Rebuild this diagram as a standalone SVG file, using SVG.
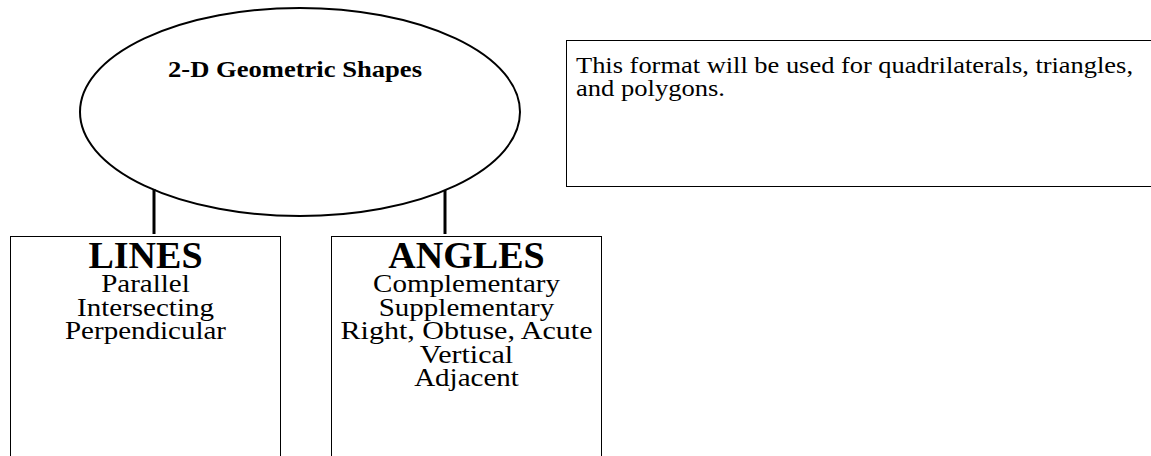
<svg xmlns="http://www.w3.org/2000/svg" width="1151" height="456" viewBox="0 0 1151 456">
<style>
.ln{fill:none;stroke:#000;}
.t{font-family:"Liberation Serif","Times New Roman",serif;fill:#000;}
.b{font-weight:bold;}
.c{text-anchor:middle;}
.it{font-size:26px;}
</style>
<rect width="1151" height="456" fill="#fff"/>
<g id="connectors">
<line class="ln" x1="154" y1="189" x2="154" y2="234" stroke-width="3"/>
<line class="ln" x1="445" y1="190" x2="445" y2="234" stroke-width="3"/>
</g>
<g id="root">
<ellipse class="ln" cx="300" cy="112" rx="220" ry="104" stroke-width="2"/>
<text class="t b c" x="295" y="77" font-size="23" textLength="254" lengthAdjust="spacingAndGlyphs">2-D Geometric Shapes</text>
</g>
<g id="note">
<rect class="ln" x="566.5" y="40.5" width="600" height="146" stroke-width="1"/>
<text class="t" x="576" y="73" font-size="24" textLength="557" lengthAdjust="spacingAndGlyphs">This format will be used for quadrilaterals, triangles,</text>
<text class="t" x="576" y="96" font-size="24" textLength="149" lengthAdjust="spacingAndGlyphs">and polygons.</text>
</g>
<g id="lines">
<rect class="ln" x="10.5" y="236.5" width="270" height="240" stroke-width="1"/>
<text class="t b c" x="145.5" y="268" font-size="38">LINES</text>
<text class="t c it" x="145.5" y="292" textLength="88.6" lengthAdjust="spacingAndGlyphs">Parallel</text>
<text class="t c it" x="145.5" y="315.5" textLength="136.9" lengthAdjust="spacingAndGlyphs">Intersecting</text>
<text class="t c it" x="145.5" y="339" textLength="161" lengthAdjust="spacingAndGlyphs">Perpendicular</text>
</g>
<g id="angles">
<rect class="ln" x="331.5" y="236.5" width="270" height="240" stroke-width="1"/>
<text class="t b c" x="466.5" y="268" font-size="38">ANGLES</text>
<text class="t c it" x="466.5" y="292" textLength="186.9" lengthAdjust="spacingAndGlyphs">Complementary</text>
<text class="t c it" x="466.5" y="315.5" textLength="175.6" lengthAdjust="spacingAndGlyphs">Supplementary</text>
<text class="t c it" x="466.5" y="339" textLength="252" lengthAdjust="spacingAndGlyphs">Right, Obtuse, Acute</text>
<text class="t c it" x="466.5" y="362.5" textLength="93.4" lengthAdjust="spacingAndGlyphs">Vertical</text>
<text class="t c it" x="466.5" y="386" textLength="104.7" lengthAdjust="spacingAndGlyphs">Adjacent</text>
</g>
</svg>
